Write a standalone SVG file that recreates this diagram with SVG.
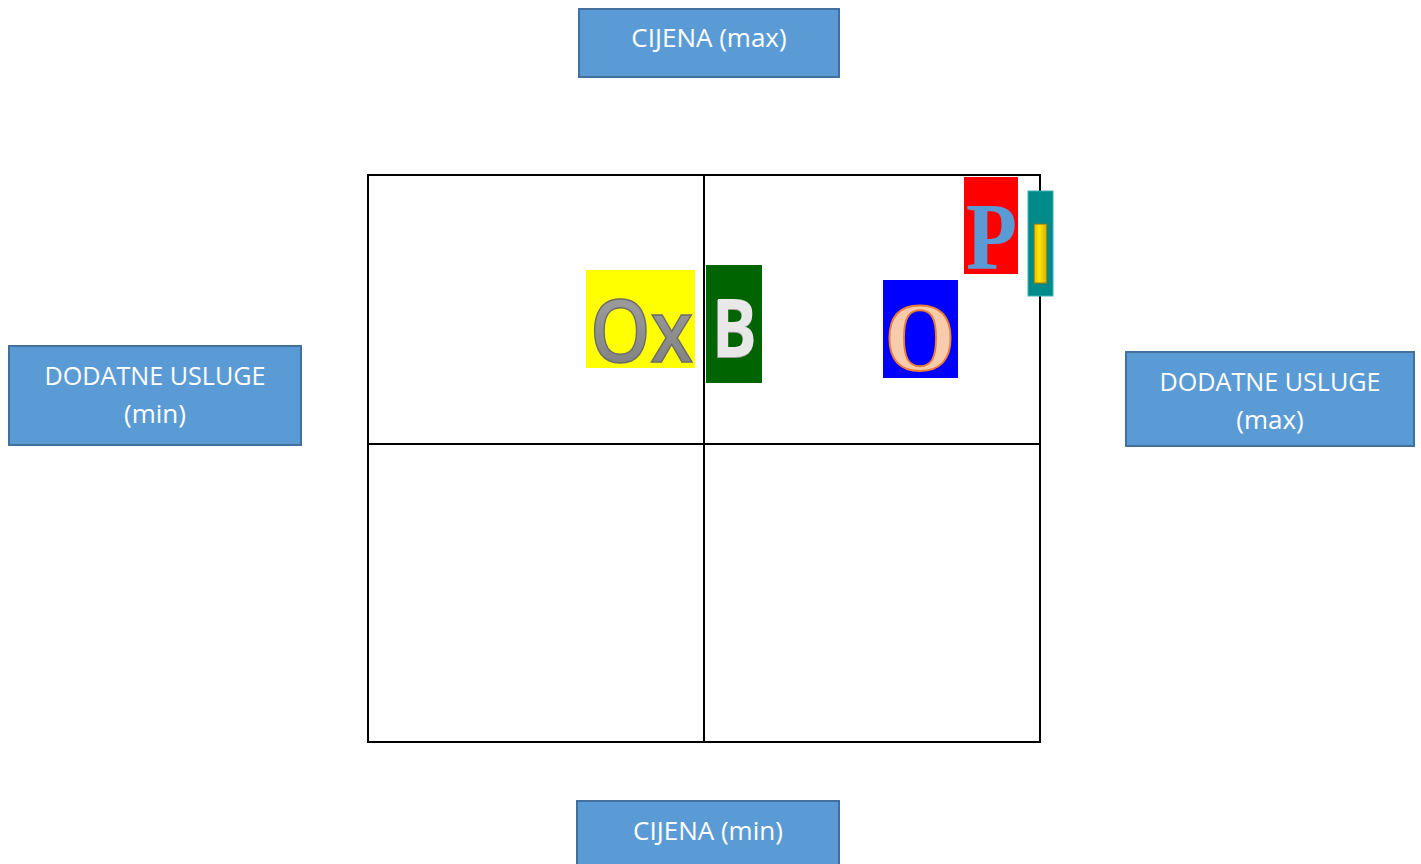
<svg xmlns="http://www.w3.org/2000/svg" width="1421" height="864" viewBox="0 0 1421 864">
<style>
.box{fill:#5b9bd5;stroke:#41719c;stroke-width:2}
.lbl{font-family:"Open Sans","Noto Sans",sans-serif;font-size:26px;fill:#ffffff;text-anchor:middle}
.grid{fill:none;stroke:#000;stroke-width:2}
</style>
<defs>
<linearGradient id="gray" x1="0" y1="0" x2="0" y2="1">
<stop offset="0" stop-color="#a6a6a6"/><stop offset="1" stop-color="#7a7a7a"/>
</linearGradient>
<linearGradient id="gold" x1="0" y1="0" x2="1" y2="0">
<stop offset="0" stop-color="#c79200"/><stop offset="0.45" stop-color="#ffe600"/><stop offset="1" stop-color="#b98500"/>
</linearGradient>
</defs>
<rect width="1421" height="864" fill="#ffffff"/>
<g id="grid">
<rect class="grid" x="368" y="175" width="672" height="567"/>
<line class="grid" x1="704" y1="175" x2="704" y2="742"/>
<line class="grid" x1="368" y1="444" x2="1040" y2="444"/>
</g>
<g id="cijena-max">
<rect class="box" x="579" y="9" width="260" height="68"/>
<text class="lbl" x="709" y="47">CIJENA (max)</text>
</g>
<g id="cijena-min">
<rect class="box" x="577" y="801" width="262" height="70"/>
<text class="lbl" x="708" y="840">CIJENA (min)</text>
</g>
<g id="usluge-min">
<rect class="box" x="9" y="346" width="292" height="99"/>
<text class="lbl" x="155" y="385" textLength="221" lengthAdjust="spacingAndGlyphs">DODATNE USLUGE</text>
<text class="lbl" x="155" y="423">(min)</text>
</g>
<g id="usluge-max">
<rect class="box" x="1126" y="352" width="288" height="94"/>
<text class="lbl" x="1270" y="391" textLength="221" lengthAdjust="spacingAndGlyphs">DODATNE USLUGE</text>
<text class="lbl" x="1270" y="429">(max)</text>
</g>
<g id="ox">
<rect x="586" y="270" width="109" height="98" fill="#ffff00"/>
<text x="590" y="362" font-family="'Open Sans','Noto Sans',sans-serif" font-weight="600" font-size="86" fill="url(#gray)" stroke="#6b6b6b" stroke-width="1.5" textLength="103" lengthAdjust="spacingAndGlyphs">Ox</text>
</g>
<g id="b">
<rect x="706" y="265" width="56" height="118" fill="#006400"/>
<text x="711" y="358" font-family="'Open Sans','Noto Sans',sans-serif" font-weight="bold" font-size="80" fill="#9a9a9a" textLength="46" lengthAdjust="spacingAndGlyphs">B</text>
<text x="712" y="357" font-family="'Open Sans','Noto Sans',sans-serif" font-weight="bold" font-size="80" fill="#e8e8e8" textLength="45" lengthAdjust="spacingAndGlyphs">B</text>
</g>
<g id="o">
<rect x="883" y="280" width="75" height="98" fill="#0000ff"/>
<text x="885" y="370" font-family="'Liberation Serif',serif" font-weight="bold" font-size="97" fill="#f8cbad" stroke="#ed7d31" stroke-width="2" textLength="70" lengthAdjust="spacingAndGlyphs">O</text>
</g>
<g id="p">
<rect x="964" y="177" width="54" height="97" fill="#ff0000"/>
<text x="966" y="269" font-family="'Liberation Serif',serif" font-weight="bold" font-size="96" fill="#5b9bd5" textLength="51" lengthAdjust="spacingAndGlyphs">P</text>
</g>
<g id="i">
<rect x="1028" y="191" width="25" height="105" fill="#008b8b" stroke="#3fb0b0" stroke-width="1"/>
<text x="1040.5" y="283" text-anchor="middle" font-family="'Liberation Sans',sans-serif" font-weight="bold" font-size="86" fill="url(#gold)" stroke="#b07a00" stroke-width="0.8">I</text>
</g>
</svg>
